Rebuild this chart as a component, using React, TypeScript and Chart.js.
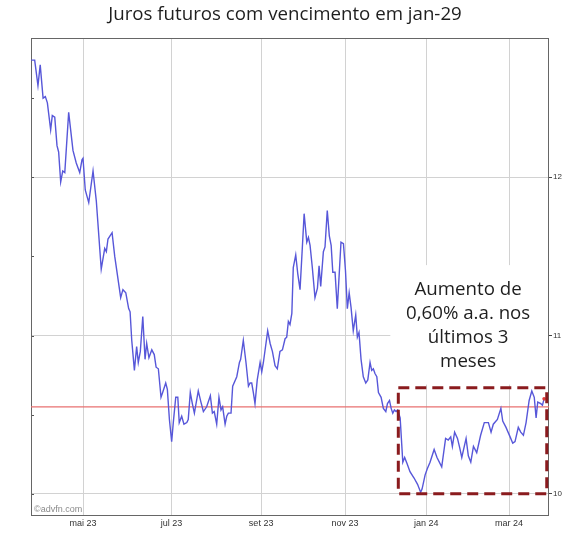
import React, { useEffect, useRef } from 'react';
import { Chart, registerables } from 'chart.js';

Chart.register(...registerables);

// Trading-session index (0 = late March 2023) of each vertex of the line
const SESSIONS = [
  0.1, 1.8, 3.4, 4.5, 5.9, 7.0, 8.0, 9.6, 10.4, 11.6,
  12.7, 13.5, 14.5, 15.5, 16.5, 18.4, 20.5, 22.1, 23.8, 24.9,
  25.4, 26.5, 28.2, 30.3, 31.9, 34.3, 36.0, 36.8, 37.6, 39.6,
  40.9, 43.8, 44.9, 46.3, 47.7, 48.4, 49.2, 50.5, 51.6, 52.4,
  53.4, 54.6, 55.7, 56.5, 57.6, 59.0, 60.2, 61.1, 62.2, 63.5,
  64.3, 65.8, 66.6, 67.6, 68.7, 69.5, 70.7, 71.7, 72.4, 73.6,
  74.7, 76.1, 76.8, 77.8, 78.8, 79.8, 81.7, 83.0, 84.2, 85.8,
  87.6, 88.6, 89.5, 90.7, 91.8, 92.8, 93.6, 94.8, 95.6, 96.4,
  97.7, 98.5, 100.5, 101.8, 102.4, 103.7, 105.0, 106.2, 107.0, 107.8,
  108.6, 109.4, 110.5, 111.9, 112.7, 113.5, 115.6, 116.8, 117.9, 119.2,
  120.3, 121.6, 122.8, 124.1, 124.9, 125.7, 126.5, 127.4, 128.1, 129.3,
  130.3, 131.4, 132.5, 133.4, 134.7, 135.5, 136.3, 137.4, 138.7, 139.9,
  140.7, 141.5, 142.8, 143.6, 144.7, 145.7, 146.6, 147.4, 148.5, 149.6,
  151.4, 152.6, 153.6, 154.5, 155.4, 156.3, 157.4, 158.6, 159.4, 160.2,
  161.2, 162.3, 163.5, 164.5, 165.6, 166.4, 167.2, 168.0, 168.9, 169.7,
  171.0, 172.1, 173.3, 174.1, 175.1, 175.9, 176.7, 177.5, 178.3, 179.1,
  180.3, 181.6, 182.5, 183.7, 185.1, 187.1, 188.8, 190.3, 191.0, 192.5,
  193.6, 194.9, 196.9, 198.3, 200.6, 202.5, 203.8, 205.0, 205.8, 206.9,
  208.3, 209.4, 210.4, 212.5, 213.6, 214.8, 216.1, 217.7, 219.6, 221.4,
  223.4, 224.7, 225.8, 227.8, 229.5, 230.4, 232.0, 234.0, 235.3, 236.4,
  238.0, 239.2, 240.5, 241.8, 243.3, 244.6, 245.8, 246.7, 247.5, 249.0,
  249.8, 250.6,
];

// Rate (% a.a.) of the jan-29 future at each vertex
const RATES = [
  12.74, 12.74, 12.58, 12.71, 12.50, 12.51, 12.47, 12.30, 12.39, 12.38,
  12.20, 12.16, 11.97, 12.04, 12.03, 12.41, 12.17, 12.09, 12.03, 12.11,
  12.12, 11.92, 11.84, 12.04, 11.85, 11.42, 11.55, 11.53, 11.61, 11.65,
  11.50, 11.24, 11.29, 11.27, 11.17, 11.15, 10.97, 10.78, 10.93, 10.83,
  10.90, 11.12, 10.85, 10.95, 10.86, 10.91, 10.88, 10.80, 10.79, 10.61,
  10.64, 10.70, 10.66, 10.47, 10.33, 10.45, 10.61, 10.61, 10.45, 10.49,
  10.44, 10.45, 10.47, 10.64, 10.57, 10.51, 10.65, 10.58, 10.52, 10.55,
  10.62, 10.51, 10.52, 10.44, 10.61, 10.53, 10.55, 10.44, 10.49, 10.51,
  10.51, 10.68, 10.74, 10.83, 10.85, 10.97, 10.83, 10.68, 10.70, 10.70,
  10.64, 10.57, 10.72, 10.83, 10.77, 10.83, 11.03, 10.95, 10.90, 10.81,
  10.79, 10.90, 10.91, 10.98, 10.99, 11.09, 11.07, 11.14, 11.43, 11.51,
  11.39, 11.29, 11.55, 11.77, 11.59, 11.62, 11.57, 11.43, 11.24, 11.30,
  11.44, 11.31, 11.53, 11.56, 11.79, 11.63, 11.57, 11.40, 11.40, 11.17,
  11.59, 11.58, 11.41, 11.17, 11.27, 11.18, 11.03, 11.13, 10.99, 11.02,
  10.85, 10.74, 10.70, 10.72, 10.83, 10.78, 10.79, 10.76, 10.74, 10.64,
  10.61, 10.54, 10.52, 10.57, 10.59, 10.54, 10.51, 10.53, 10.52, 10.53,
  10.48, 10.20, 10.23, 10.19, 10.14, 10.10, 10.06, 10.01, 10.03, 10.12,
  10.16, 10.20, 10.28, 10.23, 10.17, 10.35, 10.34, 10.36, 10.30, 10.39,
  10.35, 10.29, 10.23, 10.35, 10.24, 10.20, 10.30, 10.26, 10.37, 10.45,
  10.45, 10.39, 10.44, 10.47, 10.54, 10.46, 10.42, 10.36, 10.32, 10.33,
  10.42, 10.39, 10.37, 10.45, 10.59, 10.65, 10.61, 10.48, 10.58, 10.57,
  10.56, 10.60,
];

// Month starts (session index) and their labels
const MONTH_SESSIONS = [25.4, 68.6, 112.4, 153.4, 193.0, 233.5];
const MONTH_LABELS = ['mai 23', 'jul 23', 'set 23', 'nov 23', 'jan 24', 'mar 24'];

const RIGHT_TICKS = [10, 11, 12];
const LEFT_MINOR_TICKS = [10, 10.5, 11, 11.5, 12, 12.5];
const REFERENCE_LEVEL = [10.55, 10.55];
const SESSION_RANGE = [0, 253];
const RATE_RANGE = [9.86, 12.88];

const TITLE = 'Juros futuros com vencimento em jan-29';
const NOTE_LINES = ['Aumento de', '0,60% a.a. nos', 'últimos 3', 'meses'];
const WATERMARK = '©advfn.com';

// highlighted window: sessions and rate band
const BOX_SESSIONS = [179.4, 251.9];
const BOX_RATES = [10.0, 10.67];

const TEXT_FONT = '"Open Sans", Lato, sans-serif';

export default function App() {
  const ref = useRef<HTMLCanvasElement>(null);

  useEffect(() => {
    if (!ref.current) return;

    const overlay = {
      id: 'overlay',
      beforeDatasetsDraw(chart: any) {
        const { ctx, chartArea: a, scales } = chart;
        const y = scales.y;
        ctx.save();
        ctx.strokeStyle = '#555';
        ctx.lineWidth = 1;
        LEFT_MINOR_TICKS.forEach((v) => {
          const py = Math.round(y.getPixelForValue(v)) + 0.5;
          ctx.beginPath();
          ctx.moveTo(a.left, py);
          ctx.lineTo(a.left + 3, py);
          ctx.stroke();
        });
        ctx.strokeStyle = '#666';
        ctx.strokeRect(a.left + 0.5, a.top + 0.5, a.right - a.left - 1, a.bottom - a.top - 1);
        ctx.restore();
      },
      afterDatasetsDraw(chart: any) {
        const { ctx, chartArea: a, scales } = chart;
        const x = scales.x;
        const y = scales.y;
        ctx.save();
        const px0 = x.getPixelForValue(175.5);
        const pyTop = y.getPixelForValue(11.445);
        const pyBot = y.getPixelForValue(10.69);
        ctx.fillStyle = '#fff';
        ctx.fillRect(px0, pyTop, a.right - 1 - px0, pyBot - pyTop);
        ctx.fillStyle = '#1e1e1e';
        ctx.font = '18.7px ' + TEXT_FONT;
        ctx.textAlign = 'center';
        ctx.textBaseline = 'middle';
        const cx = x.getPixelForValue(213.5);
        const y0 = y.getPixelForValue(11.293);
        NOTE_LINES.forEach((line, i) => ctx.fillText(line, cx, y0 + i * 24));
        const bx0 = x.getPixelForValue(BOX_SESSIONS[0]);
        const bx1 = x.getPixelForValue(BOX_SESSIONS[1]);
        const by0 = y.getPixelForValue(BOX_RATES[1]);
        const by1 = y.getPixelForValue(BOX_RATES[0]);
        ctx.strokeStyle = '#8a1b1e';
        ctx.lineWidth = 3;
        ctx.setLineDash([11, 6]);
        ctx.strokeRect(bx0, by0, bx1 - bx0, by1 - by0);
        ctx.setLineDash([]);
        ctx.fillStyle = '#8a8a8a';
        ctx.font = '9px "Liberation Sans", Arial, sans-serif';
        ctx.textAlign = 'left';
        ctx.textBaseline = 'alphabetic';
        ctx.fillText(WATERMARK, a.left + 3, a.bottom - 4);
        ctx.restore();
      },
    };

    const points = SESSIONS.map((s, i) => ({ x: s, y: RATES[i] }));
    const last = points.length - 1;

    const chart = new Chart(ref.current, {
      type: 'line',
      data: {
        datasets: [
          {
            data: SESSION_RANGE.map((s, i) => ({ x: s, y: REFERENCE_LEVEL[i] })),
            borderColor: '#e87070',
            borderWidth: 1.2,
            pointRadius: 0,
            order: 2,
          },
          {
            data: points,
            borderColor: '#5757d9',
            borderWidth: 1.4,
            tension: 0,
            pointRadius: (c: any) => (c.dataIndex === last ? 1.8 : 0),
            pointBackgroundColor: '#e03a3a',
            pointBorderWidth: 0,
            order: 1,
          },
        ],
      },
      options: {
        animation: false,
        responsive: true,
        maintainAspectRatio: false,
        layout: { padding: { top: 38, left: 0, right: 0, bottom: 0 } },
        plugins: { legend: { display: false }, tooltip: { enabled: false }, title: { display: false } },
        scales: {
          x: {
            type: 'linear',
            min: SESSION_RANGE[0],
            max: SESSION_RANGE[1],
            afterBuildTicks: (s: any) => {
              s.ticks = MONTH_SESSIONS.map((v) => ({ value: v }));
            },
            afterFit: (s: any) => {
              s.height = 19;
            },
            ticks: {
              autoSkip: false,
              maxRotation: 0,
              padding: 2,
              color: '#333',
              font: { family: '"Liberation Sans", Arial, sans-serif', size: 9 },
              callback: (_v: any, i: number) => MONTH_LABELS[i],
            },
            grid: { color: '#d2d2d2', lineWidth: 1, drawTicks: false },
            border: { display: false },
          },
          yl: {
            type: 'linear',
            position: 'left',
            min: RATE_RANGE[0],
            max: RATE_RANGE[1],
            afterFit: (s: any) => {
              s.width = 31;
            },
            ticks: { display: false },
            grid: { display: false },
            border: { display: false },
          },
          y: {
            type: 'linear',
            position: 'right',
            min: RATE_RANGE[0],
            max: RATE_RANGE[1],
            afterBuildTicks: (s: any) => {
              s.ticks = RIGHT_TICKS.map((v) => ({ value: v }));
            },
            afterFit: (s: any) => {
              s.width = 38;
            },
            ticks: {
              padding: 1,
              color: '#333',
              font: { family: '"Liberation Sans", Arial, sans-serif', size: 8 },
              callback: (v: any) => String(v),
            },
            grid: { color: '#d2d2d2', lineWidth: 1, tickLength: 3, tickColor: '#444' },
            border: { display: false },
          },
        },
      },
      plugins: [overlay],
    });

    return () => chart.destroy();
  }, []);

  return (
    <div style={{ position: 'absolute', left: 0, top: 0, width: 587, height: 535, background: '#fff' }}>
      <div style={{ position: 'absolute', left: 0, top: 0, width: 587, height: 535 }}>
        <canvas ref={ref} />
      </div>
      <div
        style={{
          position: 'absolute',
          left: 0,
          top: 2,
          width: 570,
          textAlign: 'center',
          fontFamily: TEXT_FONT,
          fontSize: 18.7,
          lineHeight: '22px',
          color: '#1e1e1e',
          whiteSpace: 'nowrap',
        }}
      >
        {TITLE}
      </div>
    </div>
  );
}
